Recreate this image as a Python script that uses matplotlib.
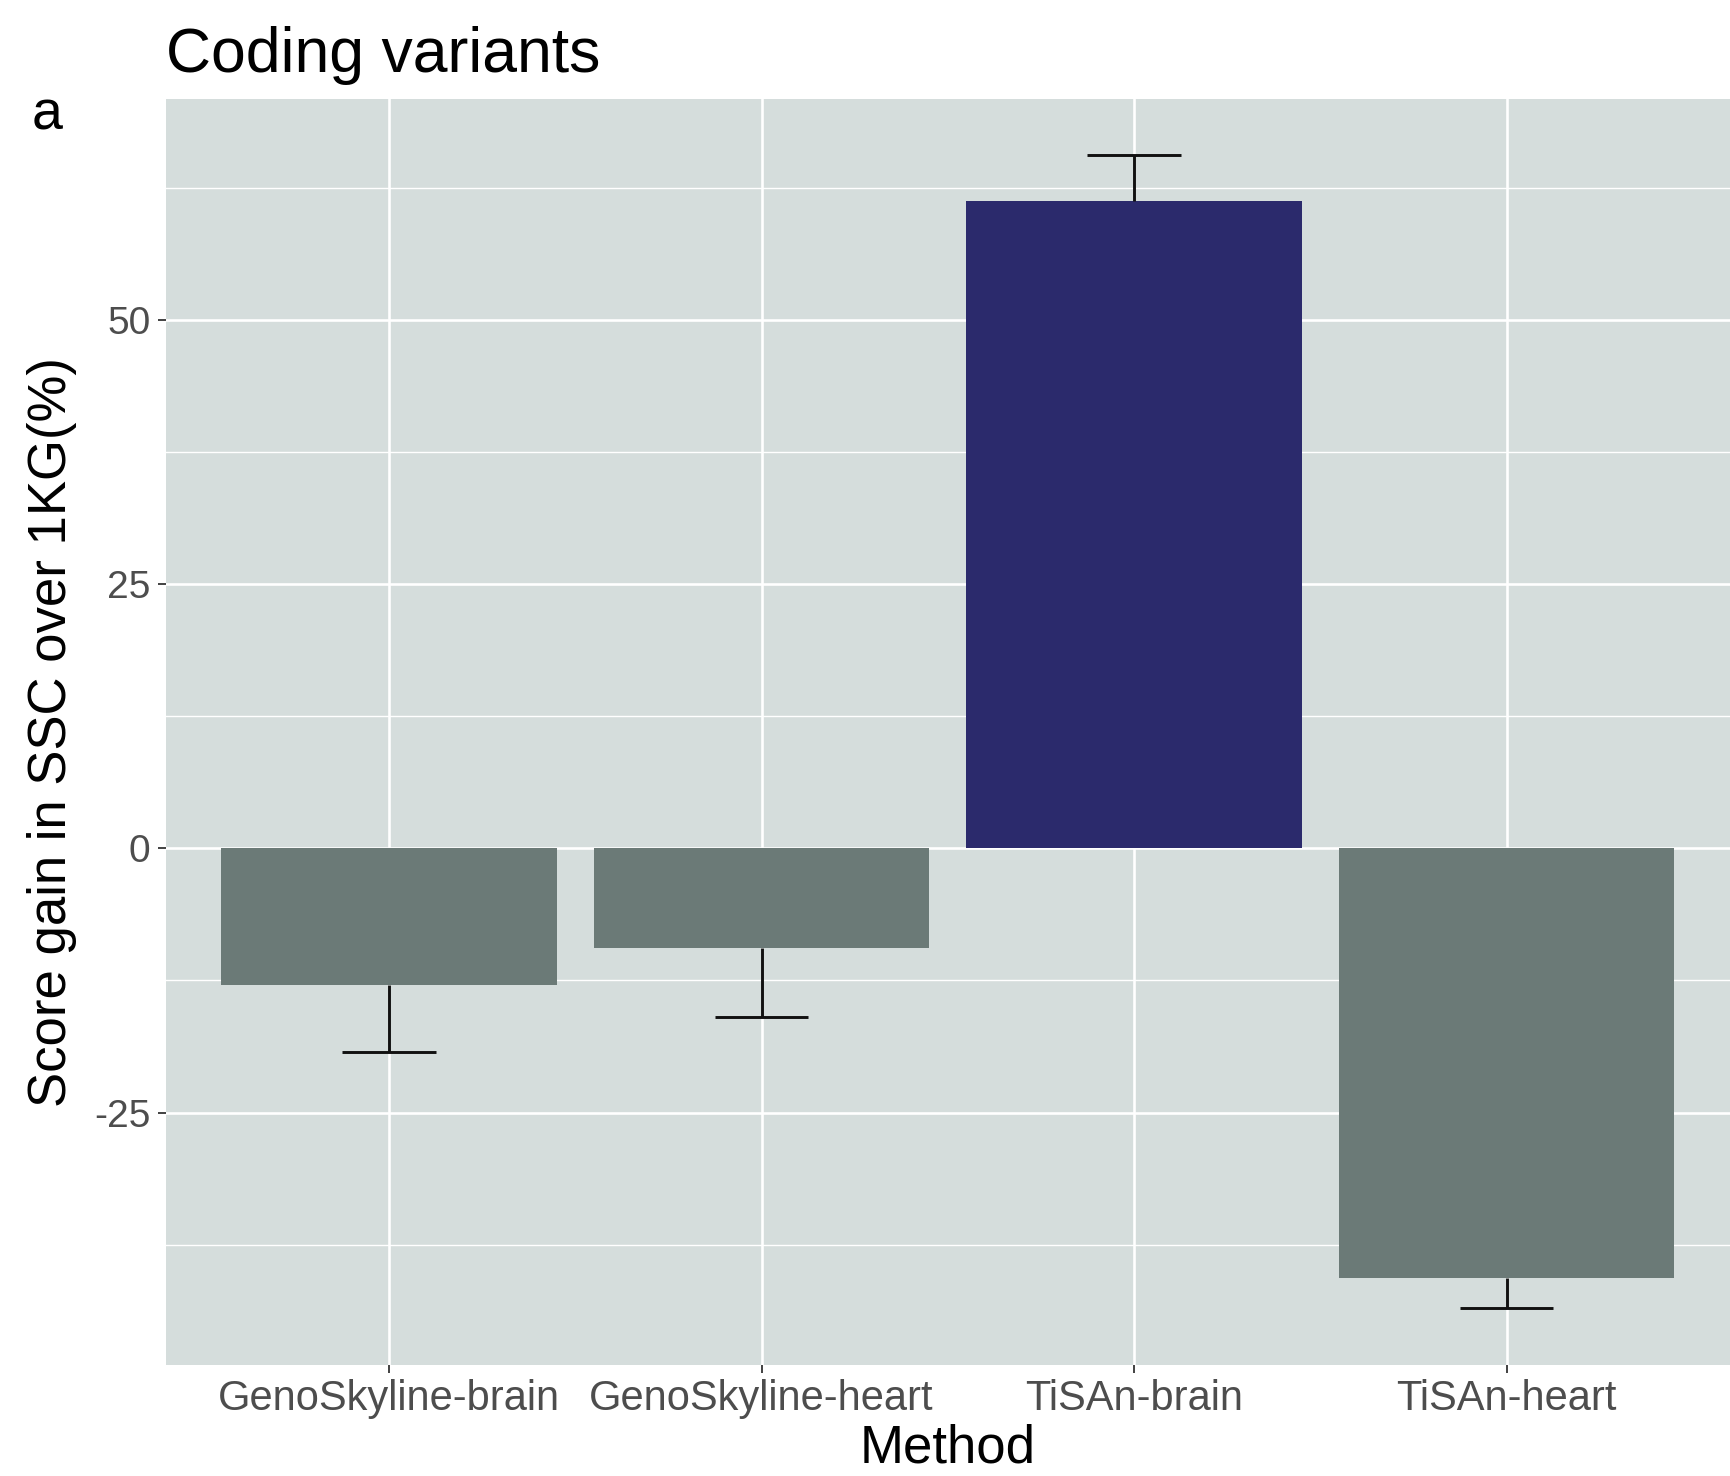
import numpy as np
import matplotlib
matplotlib.use("Agg")
import matplotlib.pyplot as plt

"""
Bar chart: score gain in SSC over 1KG, coding variants
"""

# ============================================================================
# Data
# ============================================================================

methods = ["GenoSkyline-brain", "GenoSkyline-heart", "TiSAn-brain", "TiSAn-heart"]
gain = [-12.9, -9.4, 61.3, -40.7]
err = [6.4, 6.6, 4.3, 2.8]
bar_colors = ["#6b7a77", "#6b7a77", "#2b2a6c", "#6b7a77"]

y_ticks = [-25, 0, 25, 50]
y_minor = [-37.5, -12.5, 12.5, 37.5, 62.5]

# ============================================================================
# Plot
# ============================================================================

plt.rcParams['font.family'] = ['Liberation Sans', 'DejaVu Sans']

fig = plt.figure(figsize=(17.3, 14.76), dpi=100)
ax = fig.add_axes([0.0957, 0.0752, 0.9043, 0.8575])
ax.set_facecolor("#d5dddc")

x = np.arange(len(methods))

# grid (ggplot style)
for yv in y_minor:
    ax.axhline(yv, color="white", lw=1.0, zorder=0)
for yv in y_ticks:
    ax.axhline(yv, color="white", lw=1.9, zorder=0)
for xv in x:
    ax.axvline(xv, color="white", lw=1.9, zorder=0)

ax.bar(x, gain, width=0.9, color=bar_colors, zorder=2)

# one sided error bars, going away from zero
ends = [g + e if g >= 0 else g - e for g, e in zip(gain, err)]
ax.vlines(x, gain, ends, color="#111111", lw=2.1, zorder=3)
ax.hlines(ends, x - 0.125, x + 0.125, color="#111111", lw=2.1, zorder=3)

ax.set_xlim(-0.6, 3.6)
ax.set_ylim(-48.9, 70.9)
ax.set_xticks(x)
ax.set_xticklabels(methods, fontsize=30, color="#4d4d4d")
ax.set_yticks(y_ticks)
ax.set_yticklabels([str(v) for v in y_ticks], fontsize=28, color="#4d4d4d")
ax.tick_params(axis="both", length=6, width=1.3, color="#333333")
ax.tick_params(axis="y", pad=5)
ax.tick_params(axis="x", pad=4)

for s in ax.spines.values():
    s.set_visible(False)

ax.set_xlabel("Method", fontsize=38, labelpad=3)
ax.set_ylabel("Score gain in SSC over 1KG(%)", fontsize=38, labelpad=12)

fig.text(0.0957, 0.951, "Coding variants", fontsize=45, ha="left", va="baseline")
fig.text(0.018, 0.912, "a", fontsize=40, ha="left", va="baseline")

fig.savefig("out.png", dpi=100)
